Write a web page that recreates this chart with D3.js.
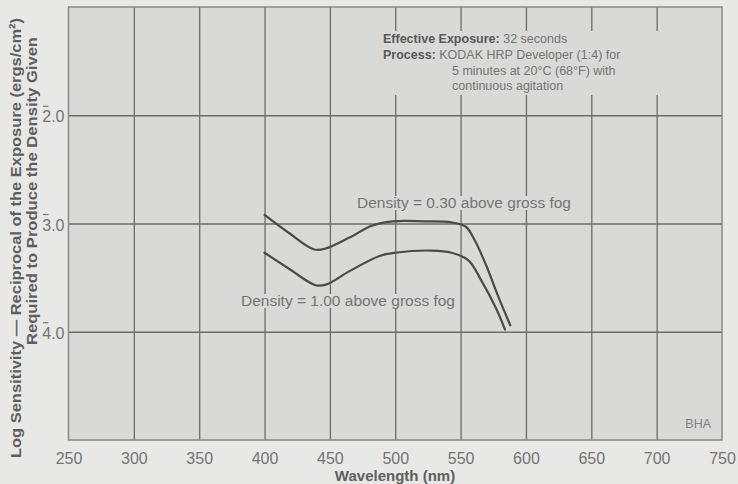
<!DOCTYPE html>
<html>
<head>
<meta charset="utf-8">
<script src="https://cdn.jsdelivr.net/npm/d3@7"></script>
<style>
  html, body { margin: 0; padding: 0; background: #e8e8e6; }
  svg { display: block; }
  text { font-family: "Liberation Sans", Arial, Helvetica, sans-serif; }
</style>
</head>
<body>
<svg id="chart" width="738" height="484"></svg>
<script>
// Spectral sensitivity data (wavelength in nm, log sensitivity)
const wavelengthTicks = [250, 300, 350, 400, 450, 500, 550, 600, 650, 700, 750];
const sensitivityTicks = [2, 3, 4];

const density030Wavelength = [400, 419, 438, 447, 465, 482, 498, 523, 543, 554, 561, 569, 579, 588];
const density030Value      = [2.92, 3.09, 3.24, 3.23, 3.13, 3.02, 2.98, 2.98, 2.99, 3.03, 3.16, 3.37, 3.68, 3.94];

const density100Wavelength = [400, 419, 439, 447, 465, 488, 500, 528, 543, 556, 566, 577, 584];
const density100Value      = [3.27, 3.42, 3.57, 3.565, 3.44, 3.30, 3.27, 3.25, 3.27, 3.34, 3.53, 3.78, 3.98];

const seriesLabels = ["Density = 0.30 above gross fog", "Density = 1.00 above gross fog"];

const svg = d3.select("#chart");
const plot = { left: 68.5, right: 722, top: 7, bottom: 440 };

const x = d3.scaleLinear().domain([250, 750]).range([plot.left, plot.right]);
const y = d3.scaleLinear().domain([1, 5]).range([plot.top, plot.bottom]);

const paper = "#d9d9d7";
const gridColor = "#6c6c6c";
const textColor = "#747474";
const titleColor = "#5e5e5e";

// plot background
svg.append("rect")
  .attr("x", plot.left).attr("y", plot.top)
  .attr("width", plot.right - plot.left).attr("height", plot.bottom - plot.top)
  .attr("fill", paper);

// vertical grid lines
svg.append("g")
  .attr("transform", `translate(0,${plot.bottom})`)
  .call(d3.axisBottom(x).tickValues(wavelengthTicks.slice(1, -1))
    .tickSize(-(plot.bottom - plot.top)).tickFormat(""))
  .call(g => g.select(".domain").remove())
  .call(g => g.selectAll("line").attr("stroke", gridColor).attr("stroke-width", 1.3));

// horizontal grid lines
svg.append("g")
  .attr("transform", `translate(${plot.left},0)`)
  .call(d3.axisLeft(y).tickValues(sensitivityTicks)
    .tickSize(-(plot.right - plot.left)).tickFormat(""))
  .call(g => g.select(".domain").remove())
  .call(g => g.selectAll("line").attr("stroke", gridColor).attr("stroke-width", 1.3));

// frame
svg.append("rect")
  .attr("x", plot.left).attr("y", plot.top)
  .attr("width", plot.right - plot.left).attr("height", plot.bottom - plot.top)
  .attr("fill", "none").attr("stroke", "#888").attr("stroke-width", 1.5);

// x tick labels
svg.append("g")
  .attr("transform", `translate(0,${plot.bottom})`)
  .call(d3.axisBottom(x).tickValues(wavelengthTicks).tickSize(0).tickPadding(13).tickFormat(d3.format("d")))
  .call(g => g.select(".domain").remove())
  .call(g => g.selectAll("text")
    .attr("fill", textColor).style("font-size", "16px")
    .style("font-family", "'Liberation Sans', Arial, sans-serif"));

// y tick labels (bar notation on the characteristic)
const yLabels = svg.append("g")
  .attr("transform", `translate(${plot.left},0)`)
  .call(d3.axisLeft(y).tickValues(sensitivityTicks).tickSize(0).tickPadding(4).tickFormat(d3.format(".1f")))
  .call(g => g.select(".domain").remove());
yLabels.selectAll("text")
  .attr("fill", textColor).attr("dy", "0.42em").style("font-size", "16px")
  .style("font-family", "'Liberation Sans', Arial, sans-serif");
yLabels.selectAll(".tick").append("line")
  .attr("x1", -25.5).attr("x2", -20)
  .attr("y1", -9.5).attr("y2", -9.5)
  .attr("stroke", textColor).attr("stroke-width", 1.2);

// axis titles
svg.append("text")
  .attr("x", 395).attr("y", 481)
  .attr("text-anchor", "middle")
  .attr("fill", titleColor).style("font-size", "15px").style("font-weight", "bold")
  .text("Wavelength (nm)");

svg.append("text")
  .attr("transform", "translate(21,238) rotate(-90)")
  .attr("text-anchor", "middle")
  .attr("textLength", 440).attr("lengthAdjust", "spacingAndGlyphs")
  .attr("fill", titleColor).style("font-size", "15.5px").style("font-weight", "bold")
  .text("Log Sensitivity — Reciprocal of the Exposure (ergs/cm²)");
svg.append("text")
  .attr("transform", "translate(36.5,191) rotate(-90)")
  .attr("text-anchor", "middle")
  .attr("textLength", 308).attr("lengthAdjust", "spacingAndGlyphs")
  .attr("fill", titleColor).style("font-size", "15.5px").style("font-weight", "bold")
  .text("Required to Produce the Density Given");

// process annotation, lifted above the grid
svg.append("rect")
  .attr("x", 378).attr("y", 31).attr("width", 315).attr("height", 64)
  .attr("fill", paper);
const note = svg.append("text")
  .attr("fill", textColor).style("font-size", "12.5px");
const l1 = note.append("tspan").attr("x", 383).attr("y", 43);
l1.append("tspan").attr("font-weight", "bold").attr("fill", "#585858").text("Effective Exposure:");
l1.append("tspan").text(" 32 seconds");
const l2 = note.append("tspan").attr("x", 383).attr("y", 59);
l2.append("tspan").attr("font-weight", "bold").attr("fill", "#585858").text("Process:");
l2.append("tspan").text(" KODAK HRP Developer (1:4) for");
note.append("tspan").attr("x", 452).attr("y", 75).text("5 minutes at 20°C (68°F) with");
note.append("tspan").attr("x", 452).attr("y", 90).text("continuous agitation");

// curves
const line = d3.line()
  .x(d => x(d[0])).y(d => y(d[1]))
  .curve(d3.curveCatmullRom.alpha(0.5));

const series = [
  d3.zip(density030Wavelength, density030Value),
  d3.zip(density100Wavelength, density100Value)
];

svg.append("g").selectAll("path").data(series).join("path")
  .attr("d", line)
  .attr("fill", "none").attr("stroke", "#4a4a4a").attr("stroke-width", 2.2)
  .attr("stroke-linecap", "round");

// series labels with paper-coloured backing
const labelPos = [
  { x: 357, y: 208 },
  { x: 241, y: 306 }
];
const labels = svg.append("g").selectAll("g").data(seriesLabels).join("g");
labels.each(function (d, i) {
  const g = d3.select(this);
  const t = g.append("text")
    .attr("x", labelPos[i].x).attr("y", labelPos[i].y)
    .attr("textLength", 214).attr("lengthAdjust", "spacingAndGlyphs")
    .attr("fill", textColor).style("font-size", "14px")
    .text(d);
  const b = t.node().getBBox();
  g.insert("rect", "text")
    .attr("x", b.x - 2).attr("y", b.y + 1)
    .attr("width", b.width + 4).attr("height", b.height - 2)
    .attr("fill", paper);
});

// credit
svg.append("text")
  .attr("x", 711).attr("y", 428).attr("text-anchor", "end")
  .attr("fill", "#808080").style("font-size", "12.5px")
  .text("BHA");
</script>
</body>
</html>
